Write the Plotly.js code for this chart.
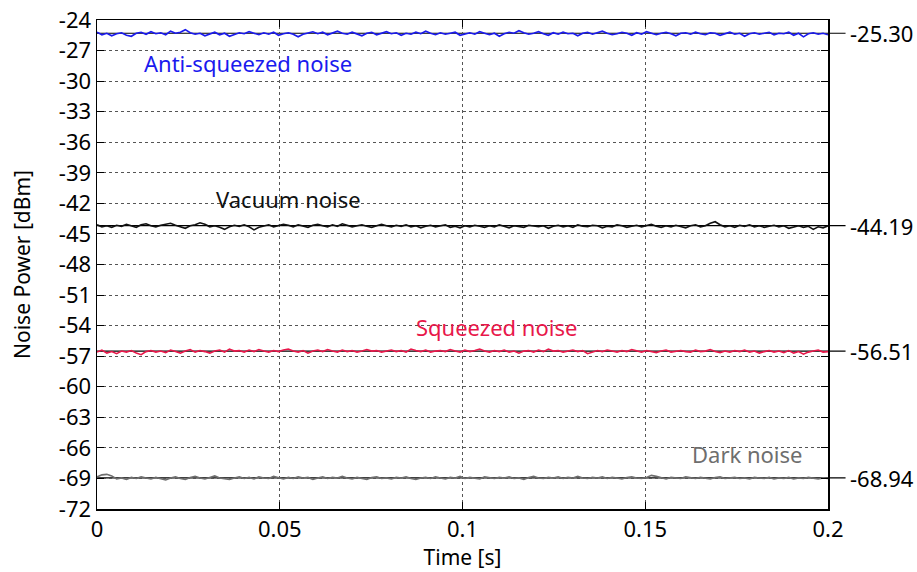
<!DOCTYPE html>
<html><head><meta charset="utf-8">
<script src="https://cdn.plot.ly/plotly-3.0.1.min.js"></script>
<style>body{margin:0;background:#fff}#c{width:917px;height:572px}</style>
</head><body><div id="c"></div>
<script>
const antiSqueezed=[-25.2,-25.45,-25.3,-25.55,-25.35,-25.25,-25.5,-25.6,-25.3,-25.2,-25.4,-25.15,-25.35,-25.25,-25.45,-25.1,-25.3,-25.2,-24.95,-25.25,-25.4,-25.3,-25.55,-25.35,-25.2,-25.45,-25.3,-25.6,-25.4,-25.25,-25.35,-25.15,-25.3,-25.45,-25.25,-25.4,-25.2,-25.5,-25.35,-25.25,-25.4,-25.65,-25.4,-25.3,-25.15,-25.35,-25.2,-25.45,-25.3,-25.1,-25.3,-25.4,-25.2,-25.35,-25.55,-25.3,-25.2,-25.45,-25.3,-25.15,-25.35,-25.25,-25.5,-25.3,-25.4,-25.2,-25.35,-25.1,-25.3,-25.45,-25.25,-25.4,-25.3,-25.2,-25.5,-25.35,-25.25,-25.4,-25.15,-25.3,-25.45,-25.3,-25.6,-25.35,-25.2,-25.3,-25.05,-25.25,-25.4,-25.3,-25.15,-25.35,-25.5,-25.25,-25.4,-25.2,-25.35,-25.3,-25.55,-25.3,-25.2,-25.4,-25.25,-25.1,-25.3,-25.45,-25.35,-25.2,-25.3,-25.5,-25.25,-25.4,-25.15,-25.3,-25.45,-25.3,-25.2,-25.35,-25.55,-25.3,-25.25,-25.4,-25.2,-25.35,-25.45,-25.25,-25.3,-25.5,-25.35,-25.2,-25.4,-25.3,-25.6,-25.35,-25.25,-25.4,-25.3,-25.2,-25.45,-25.3,-25.35,-25.2,-25.5,-25.3,-25.65,-25.35,-25.25,-25.4,-25.3,-25.45];
const vacuum=[-44.1,-44.3,-44.2,-44.35,-44.15,-44.25,-44.05,-44.2,-44.35,-44.1,-44.0,-44.2,-44.3,-44.15,-44.05,-43.95,-44.15,-44.3,-44.45,-44.2,-44.1,-43.9,-44.05,-44.3,-44.2,-44.35,-44.55,-44.3,-44.15,-44.25,-44.1,-44.3,-44.6,-44.35,-44.2,-44.1,-44.3,-44.2,-44.05,-44.15,-44.3,-44.1,-44.2,-44.35,-44.15,-44.05,-44.2,-44.3,-44.1,-44.25,-44.0,-44.15,-44.3,-44.2,-44.1,-44.25,-44.35,-44.2,-44.05,-44.2,-44.3,-44.15,-44.25,-44.1,-44.3,-44.2,-44.4,-44.25,-44.15,-44.3,-44.2,-44.1,-44.35,-44.25,-44.4,-44.2,-44.3,-44.15,-44.25,-44.35,-44.2,-44.3,-44.1,-44.25,-44.4,-44.2,-44.3,-44.35,-44.15,-44.25,-44.3,-44.2,-44.45,-44.25,-44.15,-44.3,-44.2,-44.35,-44.1,-44.25,-44.3,-44.15,-44.2,-44.4,-44.25,-44.3,-44.1,-44.2,-44.35,-44.25,-44.15,-44.3,-44.2,-44.05,-44.25,-44.35,-44.2,-44.3,-44.15,-44.25,-44.4,-44.2,-44.1,-44.3,-44.2,-43.95,-43.8,-44.1,-44.3,-44.2,-44.35,-44.15,-44.25,-44.1,-44.3,-44.2,-44.35,-44.25,-44.15,-44.3,-44.2,-44.45,-44.3,-44.2,-44.35,-44.25,-44.55,-44.3,-44.4,-44.2];
const squeezed=[-56.6,-56.4,-56.7,-56.55,-56.75,-56.5,-56.6,-56.45,-56.7,-56.85,-56.55,-56.45,-56.6,-56.5,-56.65,-56.4,-56.55,-56.7,-56.5,-56.35,-56.6,-56.45,-56.55,-56.7,-56.5,-56.4,-56.6,-56.3,-56.5,-56.45,-56.6,-56.4,-56.55,-56.35,-56.5,-56.6,-56.45,-56.55,-56.4,-56.3,-56.5,-56.6,-56.45,-56.7,-56.5,-56.4,-56.55,-56.35,-56.5,-56.6,-56.4,-56.55,-56.45,-56.6,-56.5,-56.35,-56.5,-56.45,-56.6,-56.5,-56.4,-56.55,-56.45,-56.6,-56.3,-56.45,-56.55,-56.4,-56.6,-56.5,-56.45,-56.55,-56.35,-56.5,-56.6,-56.4,-56.55,-56.45,-56.3,-56.5,-56.6,-56.45,-56.55,-56.4,-56.6,-56.5,-56.7,-56.5,-56.45,-56.6,-56.4,-56.55,-56.3,-56.5,-56.45,-56.6,-56.5,-56.4,-56.55,-56.45,-56.75,-56.6,-56.45,-56.55,-56.4,-56.5,-56.6,-56.45,-56.55,-56.35,-56.5,-56.6,-56.45,-56.55,-56.65,-56.5,-56.4,-56.6,-56.5,-56.45,-56.55,-56.6,-56.4,-56.55,-56.5,-56.35,-56.55,-56.65,-56.5,-56.6,-56.45,-56.55,-56.4,-56.6,-56.5,-56.7,-56.55,-56.45,-56.6,-56.5,-56.65,-56.45,-56.7,-56.55,-56.8,-56.6,-56.5,-56.4,-56.6,-56.55];
const dark=[-68.85,-68.65,-68.6,-68.75,-69.05,-68.95,-69.1,-68.9,-69.0,-68.85,-68.95,-69.05,-68.9,-69.0,-69.15,-68.95,-68.85,-69.0,-69.1,-68.9,-68.8,-68.95,-69.05,-68.9,-68.75,-68.95,-69.0,-69.1,-68.95,-68.85,-69.0,-68.9,-69.05,-68.85,-68.95,-69.0,-68.8,-68.95,-69.05,-68.9,-69.0,-68.85,-68.95,-68.9,-69.1,-68.95,-68.85,-69.0,-68.9,-68.95,-68.8,-68.95,-69.05,-68.9,-69.0,-69.1,-68.9,-68.85,-69.0,-68.95,-69.05,-68.9,-68.95,-68.85,-69.0,-69.1,-68.95,-68.9,-69.0,-68.85,-68.95,-69.05,-68.9,-68.95,-68.8,-69.0,-68.9,-68.95,-69.05,-68.85,-68.95,-69.0,-68.9,-68.95,-68.85,-69.0,-68.95,-69.1,-68.9,-68.8,-68.95,-69.0,-68.9,-68.95,-68.85,-69.0,-68.9,-68.95,-68.8,-68.95,-69.0,-68.9,-68.95,-68.85,-69.0,-68.9,-68.95,-69.05,-68.9,-68.85,-68.95,-69.0,-68.9,-68.7,-68.8,-68.95,-69.05,-68.9,-68.95,-69.0,-68.85,-68.95,-69.0,-68.9,-68.95,-69.05,-68.9,-68.85,-69.0,-68.95,-68.9,-69.0,-68.95,-69.05,-68.9,-68.95,-69.0,-68.9,-69.05,-68.95,-69.0,-68.9,-69.05,-68.95,-69.0,-68.9,-68.95,-69.05,-68.95,-69.0];
const means=[-25.30,-44.19,-56.51,-68.94];
const meanLabels=["-25.30","-44.19","-56.51","-68.94"];
const seriesNames=["Anti-squeezed noise","Vacuum noise","Squeezed noise","Dark noise"];
const seriesColors=["#1a1aee","#111111","#e8174a","#6e6e6e"];
const labelX=[0.0413,0.0523,0.1092,0.1778];
const labelY=[-28.2,-41.6,-54.15,-66.6];
const yTicks=[-72,-69,-66,-63,-60,-57,-54,-51,-48,-45,-42,-39,-36,-33,-30,-27,-24];
const yTickText=["-72","-69","-66","-63","-60","-57","-54","-51","-48","-45","-42","-39","-36","-33","-30","-27","-24"];
const xTicks=[0,0.05,0.1,0.15,0.2];
const xTickText=["0","0.05","0.1","0.15","0.2"];
const tMax=0.2;

const allSeries=[antiSqueezed,vacuum,squeezed,dark];
const traces=allSeries.map((vals,i)=>({
  x:vals.map((v,k)=>k*tMax/(vals.length-1)),
  y:vals,type:'scatter',mode:'lines',
  line:{color:seriesColors[i],width:1.6},hoverinfo:'skip'
}));
const shapes=means.map(m=>({type:'line',xref:'paper',yref:'y',x0:0,x1:1.024,y0:m,y1:m,line:{color:'#000',width:1.2},layer:'below'}));
const annotations=[];
means.forEach((m,i)=>annotations.push({xref:'paper',yref:'y',x:1.027,y:m,xanchor:'left',yanchor:'middle',text:meanLabels[i],showarrow:false,font:{size:22,color:'#000'}}));
seriesNames.forEach((n,i)=>annotations.push({xref:'x',yref:'y',x:labelX[i],y:labelY[i],text:n,showarrow:false,xanchor:'center',yanchor:'middle',font:{size:22,color:seriesColors[i]}}));

const layout={
  width:917,height:572,
  margin:{l:97,r:89,t:20,b:63},
  paper_bgcolor:'#fff',plot_bgcolor:'#fff',
  font:{family:'"Noto Sans", "Open Sans", sans-serif',size:22,color:'#000'},
  showlegend:false,
  xaxis:{range:[0,0.2],tickvals:xTicks,ticktext:xTickText,ticks:'inside',ticklen:7,tickcolor:'#000',
    showline:true,linecolor:'#000',linewidth:1.5,mirror:'ticks',showgrid:true,gridcolor:'#555',griddash:'dot',gridwidth:1,
    zeroline:false,title:{text:'Time [s]',standoff:6,font:{size:21}}},
  yaxis:{range:[-72,-24],tickvals:yTicks,ticktext:yTickText,ticks:'inside',ticklen:7,tickcolor:'#000',
    showline:true,linecolor:'#000',linewidth:1.5,mirror:'ticks',showgrid:true,gridcolor:'#555',griddash:'dot',gridwidth:1,
    zeroline:false,title:{text:'Noise Power [dBm]',standoff:22,font:{size:21}}},
  shapes:shapes,annotations:annotations
};
Plotly.newPlot('c',traces,layout,{displayModeBar:false,staticPlot:true});
</script></body></html>
